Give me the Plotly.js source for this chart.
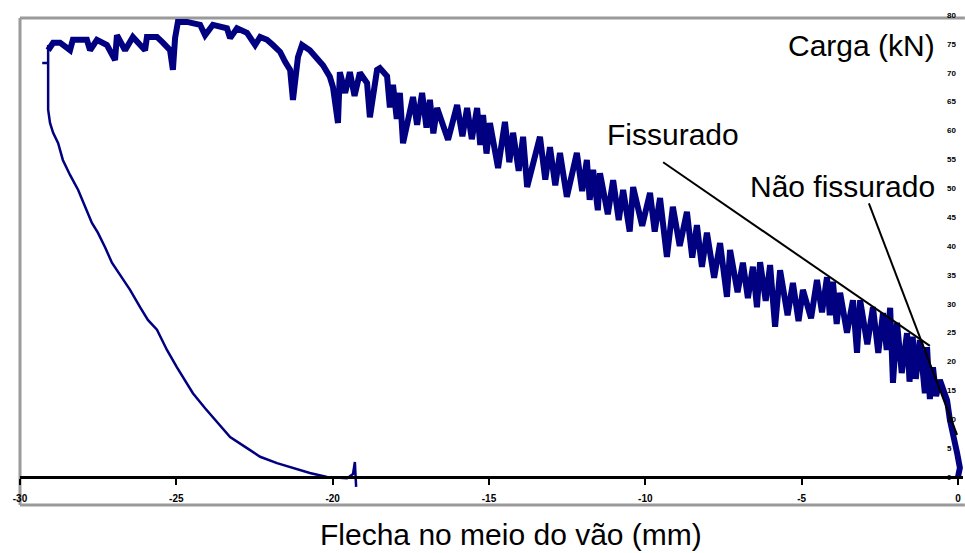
<!DOCTYPE html>
<html>
<head>
<meta charset="utf-8">
<script src="https://cdn.plot.ly/plotly-3.0.1.min.js"></script>
<style>html,body{margin:0;padding:0;background:#fff;}#chart{width:965px;height:553px;}</style>
</head>
<body>
<div id="chart"></div>
<script>
// Loading branch (deflection mm, load kN), from origin towards max deflection
const loadDeflection = [0,0.06,-0.03,-0.16,-0.26,-0.35,-0.58,-0.70,-0.80,-0.90,-0.99,-1.06,-1.22,-1.35,-1.45,-1.55,-1.63,-1.80,-1.95,-2.08,-2.17,-2.28,-2.40,-2.55,-2.72,-2.90,-3.13,-3.23,-3.36,-3.55,-3.77,-3.88,-4.00,-4.10,-4.19,-4.35,-4.51,-4.70,-4.96,-5.10,-5.28,-5.45,-5.69,-5.85,-6.01,-6.15,-6.33,-6.43,-6.56,-6.72,-6.88,-7.05,-7.29,-7.39,-7.61,-7.80,-8.03,-8.19,-8.35,-8.50,-8.67,-8.90,-9.12,-9.31,-9.53,-9.70,-9.85,-10.10,-10.39,-10.50,-10.71,-10.85,-11.03,-11.20,-11.45,-11.52,-11.67,-11.78,-11.87,-12.02,-12.19,-12.51,-12.73,-12.88,-13.05,-13.20,-13.37,-13.78,-13.91,-14.05,-14.23,-14.35,-14.49,-14.71,-14.97,-15.08,-15.19,-15.28,-15.38,-15.55,-15.70,-15.85,-16.02,-16.31,-16.66,-16.78,-16.89,-17.00,-17.14,-17.30,-17.43,-17.75,-17.85,-17.95,-18.07,-18.17,-18.26,-18.49,-18.58,-18.81,-18.90,-19.13,-19.30,-19.45,-19.60,-19.77,-19.83,-19.99,-20.09,-20.31,-20.50,-20.73,-20.98,-21.11,-21.27,-21.36,-21.52,-21.68,-21.91,-22.10,-22.32,-22.48,-22.74,-23.06,-23.28,-23.38,-23.83,-24.08,-24.24,-24.66,-24.95,-25.04,-25.11,-25.20,-25.43,-25.62,-25.94,-26.00,-26.39,-26.64,-26.90,-26.96,-27.22,-27.54,-27.76,-27.86,-28.31,-28.40,-28.72,-28.94,-29.10];
const loadForce = [0,1.6,4.2,6.9,9.9,13.3,16.8,14.0,19.0,13.5,22.5,14.5,23.7,17.0,24.3,16.5,24.9,18.0,26.7,16.3,29.3,22.0,28.4,21.5,29.4,23.0,30.6,21.5,30.6,25.0,31.9,26.5,33.8,28.0,34.6,28.5,34.1,27.5,32.4,27.0,33.6,28.0,35.8,26.0,36.7,30.5,37.2,29.4,36.4,31.0,37.1,32.0,39.3,31.2,40.5,34.5,42.3,36.4,43.6,38.0,45.9,40.0,46.8,38.1,48.3,42.5,49.2,43.5,50.2,42.5,49.7,44.5,51.4,45.5,52.6,46.2,53.2,48.0,54.9,49.5,56.1,48.5,56.1,50.5,57.1,51.5,58.9,50.2,58.9,53.0,59.6,54.5,61.5,53.5,61.3,56.0,62.7,57.5,63.9,58.5,63.9,59.0,64.4,58.4,63.9,59.5,65.3,60.5,66.5,61.0,65.8,57.8,66.5,62.0,67.9,64.0,69.4,70.8,70.5,62.3,68.2,70.0,66.0,70.1,66.5,70.1,61.3,67.5,69.3,71.3,72.6,73.9,74.8,72.7,65.3,70.5,71.9,73.6,74.8,75.7,76.2,74.8,76.9,77.7,76.0,77.7,78.3,76.5,78.3,78.8,78.8,76.0,70.5,73.9,75.2,76.2,76.2,73.9,76.2,73.9,76.5,72.2,74.8,75.7,73.9,75.7,75.7,73.9,75.2,75.2,73.9];

// Unloading branch
const unloadDeflection = [-29.10,-29.10,-29.29,-29.10,-29.10,-29.04,-28.94,-28.78,-28.63,-28.40,-28.14,-27.92,-27.70,-27.51,-27.28,-27.06,-26.80,-26.48,-26.16,-25.91,-25.62,-25.30,-24.98,-24.79,-24.47,-24.08,-23.70,-23.28,-22.74,-22.32,-21.78,-21.27,-20.73,-20.18,-19.54,-19.35,-19.29,-19.25];
const unloadForce = [74.8,71.7,71.7,71.7,63.6,61.3,59.6,57.8,54.9,52.3,49.7,46.8,44.0,42.3,39.8,37.1,35.0,32.4,29.4,27.2,25.5,22.0,19.0,17.3,14.5,11.9,9.5,6.9,5.0,3.5,2.4,1.6,0.7,0.0,-0.2,0.5,2.6,-1.7];

// Theoretical lines
const crackedDeflection = [-9.43,-0.90];
const crackedForce = [54.5,22.7];
const uncrackedDeflection = [-2.85,-0.03];
const uncrackedForce = [47.4,7.3];

// Ticks
const xTickVals = [-30,-25,-20,-15,-10,-5,0];
const xTickText = ['-30','-25','-20','-15','-10','-5','0'];
const yTickVals = [0,5,10,15,20,25,30,35,40,45,50,55,60,65,70,75,80];
const yTickText = yTickVals.map(String);

const navy = '#000080';
const traces = [
  {x: loadDeflection, y: loadForce, mode: 'lines', line: {color: navy, width: 6}, hoverinfo: 'skip'},
  {x: unloadDeflection, y: unloadForce, mode: 'lines', line: {color: navy, width: 2.5}, hoverinfo: 'skip'},
  {x: crackedDeflection, y: crackedForce, mode: 'lines', line: {color: '#000', width: 2}, hoverinfo: 'skip'},
  {x: uncrackedDeflection, y: uncrackedForce, mode: 'lines', line: {color: '#000', width: 2}, hoverinfo: 'skip'}
];

const txtFont = {family: 'Liberation Sans, Arial, sans-serif', size: 30, color: '#000'};
const layout = {
  width: 965, height: 553,
  margin: {l: 20, r: 2, t: 15, b: 48},
  paper_bgcolor: '#fff', plot_bgcolor: '#fff',
  showlegend: false,
  xaxis: {
    range: [-30, 0.16], anchor: 'free', position: 0.05714,
    tickmode: 'array', tickvals: xTickVals, ticktext: xTickText,
    ticks: 'outside', ticklen: 6, tickwidth: 2, tickcolor: '#000',
    showline: true, linecolor: '#000', linewidth: 3,
    showgrid: false, zeroline: false,
    tickfont: {family: 'Liberation Sans, Arial, sans-serif', size: 10, color: '#000', weight: 'bold'},
    ticklabelstandoff: 5
  },
  yaxis: {
    range: [-4.848, 80], side: 'right', anchor: 'free', position: 0.982,
    tickmode: 'array', tickvals: yTickVals, ticktext: yTickText,
    ticks: '', showline: false, showgrid: false, zeroline: false,
    tickfont: {family: 'Liberation Sans, Arial, sans-serif', size: 8, color: '#000', weight: 'bold'}
  },
  shapes: [
    {type: 'line', xref: 'paper', yref: 'paper', x0: 0, x1: 1.002, y0: 0.9939, y1: 0.9939, line: {color: '#9a9a9a', width: 3}, layer: 'below'},
    {type: 'line', xref: 'paper', yref: 'paper', x0: 0, x1: 1.002, y0: 0, y1: 0, line: {color: '#9a9a9a', width: 3}, layer: 'below'},
    {type: 'line', xref: 'paper', yref: 'paper', x0: 0, x1: 0, y0: 0, y1: 0.9939, line: {color: '#9a9a9a', width: 3}, layer: 'below'}
  ],
  annotations: [
    {text: 'Carga (kN)', xref: 'paper', yref: 'paper', x: 0.8123, y: 0.937, xanchor: 'left', yanchor: 'middle', showarrow: false, font: txtFont},
    {text: 'Fissurado', xref: 'paper', yref: 'paper', x: 0.6204, y: 0.757, xanchor: 'left', yanchor: 'middle', showarrow: false, font: txtFont},
    {text: 'Não fissurado', xref: 'paper', yref: 'paper', x: 0.772, y: 0.651, xanchor: 'left', yanchor: 'middle', showarrow: false, font: txtFont},
    {text: 'Flecha no meio do vão (mm)', xref: 'paper', yref: 'paper', x: 0.5207, y: -0.0612, xanchor: 'center', yanchor: 'middle', showarrow: false, font: txtFont}
  ]
};
Plotly.newPlot('chart', traces, layout, {staticPlot: true, displayModeBar: false});
</script>
</body>
</html>
